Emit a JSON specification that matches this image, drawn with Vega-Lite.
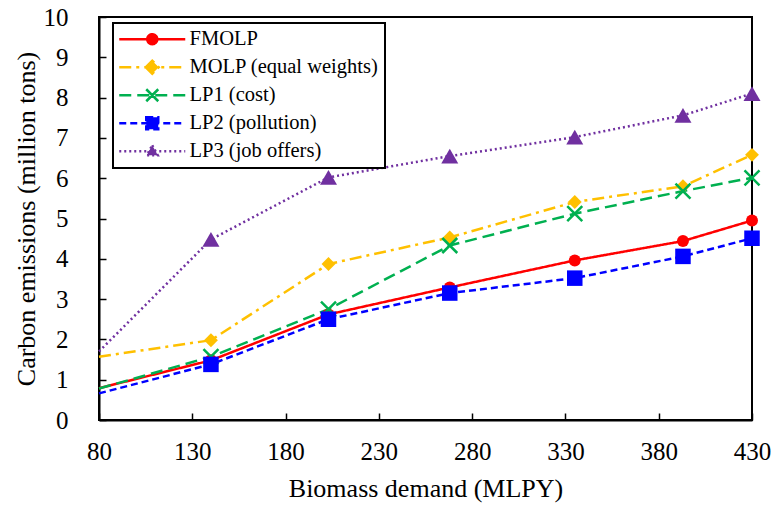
{
  "$schema": "https://vega.github.io/schema/vega-lite/v6.json",
  "width": 653,
  "height": 403,
  "autosize": {"type": "none"},
  "padding": {"left": 99, "top": 17, "right": 20, "bottom": 89},
  "background": "white",
  "config": {
    "font": "Liberation Serif",
    "view": {"stroke": "black", "strokeWidth": 2},
    "axis": {
      "grid": false,
      "domainColor": "black",
      "domainWidth": 2,
      "tickColor": "black",
      "tickWidth": 1.5,
      "tickSize": -7,
      "labelFont": "Liberation Serif",
      "labelFontSize": 25,
      "labelColor": "black",
      "titleFont": "Liberation Serif",
      "titleFontSize": 26,
      "titleFontWeight": "normal",
      "titleColor": "black"
    }
  },
  "data": {
    "values": [
      {"series": "FMOLP", "x": 80, "y": 0.79},
      {"series": "FMOLP", "x": 140, "y": 1.48},
      {"series": "FMOLP", "x": 203, "y": 2.62},
      {"series": "FMOLP", "x": 268, "y": 3.29},
      {"series": "FMOLP", "x": 335, "y": 3.96},
      {"series": "FMOLP", "x": 393, "y": 4.44},
      {"series": "FMOLP", "x": 430, "y": 4.95},
      {"series": "MOLP (equal weights)", "x": 80, "y": 1.57},
      {"series": "MOLP (equal weights)", "x": 140, "y": 1.98},
      {"series": "MOLP (equal weights)", "x": 203, "y": 3.87},
      {"series": "MOLP (equal weights)", "x": 268, "y": 4.53},
      {"series": "MOLP (equal weights)", "x": 335, "y": 5.41},
      {"series": "MOLP (equal weights)", "x": 393, "y": 5.8},
      {"series": "MOLP (equal weights)", "x": 430, "y": 6.58},
      {"series": "LP1 (cost)", "x": 80, "y": 0.78},
      {"series": "LP1 (cost)", "x": 140, "y": 1.57},
      {"series": "LP1 (cost)", "x": 203, "y": 2.75},
      {"series": "LP1 (cost)", "x": 268, "y": 4.33},
      {"series": "LP1 (cost)", "x": 335, "y": 5.12},
      {"series": "LP1 (cost)", "x": 393, "y": 5.68},
      {"series": "LP1 (cost)", "x": 430, "y": 6.01},
      {"series": "LP2 (pollution)", "x": 80, "y": 0.66},
      {"series": "LP2 (pollution)", "x": 140, "y": 1.38},
      {"series": "LP2 (pollution)", "x": 203, "y": 2.5},
      {"series": "LP2 (pollution)", "x": 268, "y": 3.15},
      {"series": "LP2 (pollution)", "x": 335, "y": 3.52},
      {"series": "LP2 (pollution)", "x": 393, "y": 4.06},
      {"series": "LP2 (pollution)", "x": 430, "y": 4.51},
      {"series": "LP3 (job offers)", "x": 80, "y": 1.7},
      {"series": "LP3 (job offers)", "x": 140, "y": 4.48},
      {"series": "LP3 (job offers)", "x": 203, "y": 6.02},
      {"series": "LP3 (job offers)", "x": 268, "y": 6.55},
      {"series": "LP3 (job offers)", "x": 335, "y": 7.02},
      {"series": "LP3 (job offers)", "x": 393, "y": 7.56},
      {"series": "LP3 (job offers)", "x": 430, "y": 8.1}
    ]
  },
  "encoding": {
    "x": {
      "field": "x", "type": "quantitative",
      "scale": {"domain": [80, 430], "nice": false, "zero": false},
      "axis": {"values": [80, 130, 180, 230, 280, 330, 380, 430], "title": "Biomass demand (MLPY)", "labelPadding": 26, "titlePadding": 11, "labelFlush": false}
    },
    "y": {
      "field": "y", "type": "quantitative",
      "scale": {"domain": [0, 10], "nice": false},
      "axis": {"values": [0, 1, 2, 3, 4, 5, 6, 7, 8, 9, 10], "title": "Carbon emissions (million tons)", "labelPadding": 38, "titlePadding": 4}
    }
  },
  "layer": [
    {
      "mark": {"type": "line", "strokeWidth": 2.5},
      "encoding": {
        "color": {
          "field": "series", "type": "nominal",
          "scale": {
            "domain": ["FMOLP", "MOLP (equal weights)", "LP1 (cost)", "LP2 (pollution)", "LP3 (job offers)"],
            "range": ["#FF0000", "#FFC000", "#00B050", "#0000FF", "#7030A0"]
          },
          "legend": {
            "orient": "none",
            "legendX": 14,
            "legendY": 6,
            "title": null,
            "strokeColor": "black",
            "fillColor": "white",
            "padding": 6,
            "labelFont": "Liberation Serif",
            "labelFontSize": 20.5,
            "labelColor": "black",
            "symbolSize": 4,
            "symbolOffset": 23,
            "labelOffset": 27,
            "rowPadding": 5,
            "labelLimit": 400,
            "encode": {
              "legend": {"update": {"strokeWidth": {"value": 2}}},
              "symbols": {
                "update": {
                  "size": {"value": 4},
                  "strokeWidth": {"value": 2.5},
                  "opacity": {"value": 1},
                  "fill": {"signal": "scale('color', datum.value)"},
                  "shape": {"signal": "datum.value === 'FMOLP' ? 'M-33,0H33M-5,0A5,5,0,1,1,5,0A5,5,0,1,1,-5,0Z' : datum.value === 'MOLP (equal weights)' ? 'M-33,0H33M-6.5,0L0,-6.5L6.5,0L0,6.5Z' : datum.value === 'LP1 (cost)' ? 'M-33,0H33M0,0L6,6M0,0L-6,6M0,0L6,-6M0,0L-6,-6' : datum.value === 'LP2 (pollution)' ? 'M-33,0H33M-6,-6H6V6H-6Z' : 'M-33,0H33M0,-6L5.5,4L-5.5,4Z'"}
                }
              }
            }
          }
        },
        "strokeDash": {
          "field": "series", "type": "nominal",
          "scale": {
            "domain": ["FMOLP", "MOLP (equal weights)", "LP1 (cost)", "LP2 (pollution)", "LP3 (job offers)"],
            "range": [[1, 0], [12, 5, 3, 5], [12, 6], [7, 4], [2, 3]]
          }
        }
      }
    },
    {
      "transform": [{"filter": "datum.x > 80 && (datum.series === 'FMOLP' || datum.series === 'MOLP (equal weights)')"}],
      "mark": {"type": "point", "filled": true, "opacity": 1, "strokeWidth": 0},
      "encoding": {
        "shape": {"field": "series", "type": "nominal", "scale": {"domain": ["FMOLP", "MOLP (equal weights)", "LP2 (pollution)", "LP3 (job offers)"], "range": ["circle", "diamond", "square", "triangle-up"]}, "legend": null},
        "size": {"field": "series", "type": "nominal", "scale": {"domain": ["FMOLP", "MOLP (equal weights)", "LP2 (pollution)", "LP3 (job offers)"], "range": [144, 289, 196, 169]}, "legend": null},
        "fill": {"field": "series", "type": "nominal", "scale": {"domain": ["FMOLP", "MOLP (equal weights)", "LP2 (pollution)", "LP3 (job offers)"], "range": ["#FF0000", "#FFC000", "#0000FF", "#7030A0"]}, "legend": null}
      }
    },
    {
      "transform": [{"filter": "datum.x > 80 && datum.series === 'LP1 (cost)'"}],
      "mark": {"type": "point", "filled": false, "opacity": 1, "shape": "M-1,-1L1,1M-1,1L1,-1", "size": 225, "color": "#00B050", "strokeWidth": 2.5}
    },
    {
      "transform": [{"filter": "datum.x > 80 && (datum.series === 'LP2 (pollution)' || datum.series === 'LP3 (job offers)')"}],
      "mark": {"type": "point", "filled": true, "opacity": 1, "strokeWidth": 0},
      "encoding": {
        "shape": {"field": "series", "type": "nominal", "scale": {"domain": ["FMOLP", "MOLP (equal weights)", "LP2 (pollution)", "LP3 (job offers)"], "range": ["circle", "diamond", "square", "triangle-up"]}, "legend": null},
        "size": {"field": "series", "type": "nominal", "scale": {"domain": ["FMOLP", "MOLP (equal weights)", "LP2 (pollution)", "LP3 (job offers)"], "range": [144, 289, 196, 169]}, "legend": null},
        "fill": {"field": "series", "type": "nominal", "scale": {"domain": ["FMOLP", "MOLP (equal weights)", "LP2 (pollution)", "LP3 (job offers)"], "range": ["#FF0000", "#FFC000", "#0000FF", "#7030A0"]}, "legend": null}
      }
    }
  ]
}
